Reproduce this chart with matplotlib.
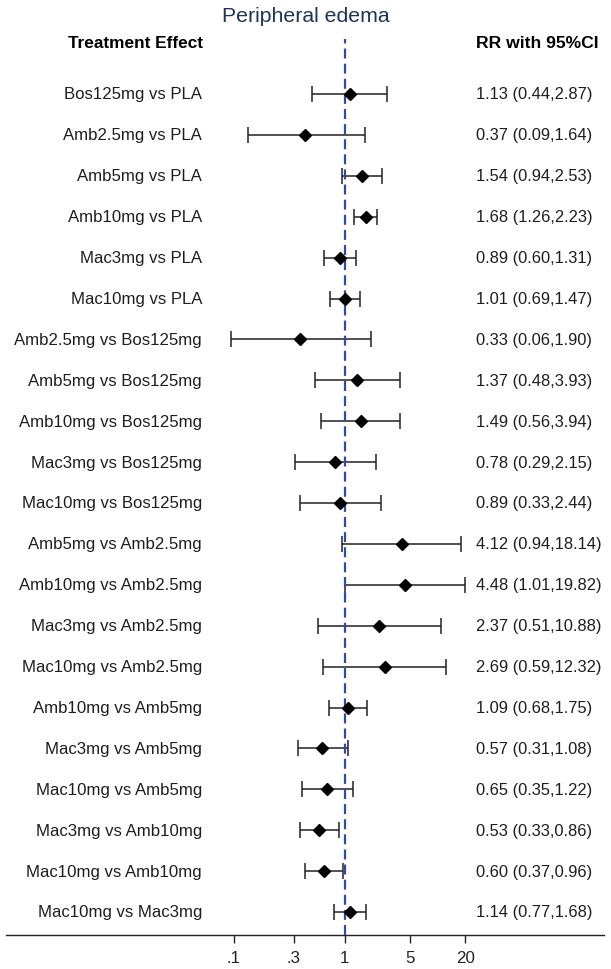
import matplotlib
matplotlib.use("Agg")
import matplotlib.pyplot as plt
import matplotlib.transforms as mtransforms
import numpy as np

plt.rcParams['font.family'] = ['Liberation Sans', 'DejaVu Sans']

title = "Peripheral edema"
comparisons = [
    "Bos125mg vs PLA", "Amb2.5mg vs PLA", "Amb5mg vs PLA", "Amb10mg vs PLA",
    "Mac3mg vs PLA", "Mac10mg vs PLA", "Amb2.5mg vs Bos125mg", "Amb5mg vs Bos125mg",
    "Amb10mg vs Bos125mg", "Mac3mg vs Bos125mg", "Mac10mg vs Bos125mg",
    "Amb5mg vs Amb2.5mg", "Amb10mg vs Amb2.5mg", "Mac3mg vs Amb2.5mg",
    "Mac10mg vs Amb2.5mg", "Amb10mg vs Amb5mg", "Mac3mg vs Amb5mg",
    "Mac10mg vs Amb5mg", "Mac3mg vs Amb10mg", "Mac10mg vs Amb10mg", "Mac10mg vs Mac3mg",
]
rr = [1.13, 0.37, 1.54, 1.68, 0.89, 1.01, 0.33, 1.37, 1.49, 0.78, 0.89,
      4.12, 4.48, 2.37, 2.69, 1.09, 0.57, 0.65, 0.53, 0.60, 1.14]
ci_low = [0.44, 0.09, 0.94, 1.26, 0.60, 0.69, 0.06, 0.48, 0.56, 0.29, 0.33,
          0.94, 1.01, 0.51, 0.59, 0.68, 0.31, 0.35, 0.33, 0.37, 0.77]
ci_high = [2.87, 1.64, 2.53, 2.23, 1.31, 1.47, 1.90, 3.93, 3.94, 2.15, 2.44,
           18.14, 19.82, 10.88, 12.32, 1.75, 1.08, 1.22, 0.86, 0.96, 1.68]
tick_values = [0.0641, 0.284, 1, 5, 20]
tick_labels = [".1", ".3", "1", "5", "20"]

W, H = 611, 970
fig = plt.figure(figsize=(W / 100, H / 100), dpi=100)
ax_left, ax_right, ax_top, ax_bot = 6, 604, 40, 936
ax = fig.add_axes([ax_left / W, 1 - ax_bot / H, (ax_right - ax_left) / W, (ax_bot - ax_top) / H])

n = len(comparisons)
rows = np.arange(1, n + 1)
row_top_px, row_bot_px = 95, 913
sp = (row_bot_px - row_top_px) / (n - 1)
ax.set_ylim(n + (ax_bot - row_bot_px) / sp, 1 - (row_top_px - ax_top) / sp)

k = 40.3
ax.set_xscale('log')
ax.set_xlim(np.exp((ax_left - 344.7) / k), np.exp((ax_right - 344.7) / k))

rr_a = np.array(rr)
lo = rr_a - np.array(ci_low)
hi = np.array(ci_high) - rr_a
ax.errorbar(rr_a, rows, xerr=[lo, hi], fmt='none', ecolor='#222222',
            elinewidth=1.1, capsize=5.5, capthick=1.1, zorder=2)
ax.axvline(1, color='#2a4f9e', lw=1.6, linestyle=(0, (4.5, 2.3)), zorder=3)
ax.plot(rr_a, rows, linestyle='none', marker='D', ms=6.6, color='black', zorder=4)

for s in ['top', 'left', 'right']:
    ax.spines[s].set_visible(False)
ax.spines['bottom'].set_linewidth(1.0)
ax.spines['bottom'].set_color('#222222')
ax.set_yticks([])
ax.xaxis.set_minor_locator(matplotlib.ticker.NullLocator())
ax.set_xticks(tick_values)
ax.set_xticklabels(tick_labels)
ax.tick_params(axis='x', length=6, width=1.0, color='#222222', labelsize=12.2,
               labelcolor='#222222', pad=5)

trans = mtransforms.blended_transform_factory(fig.transFigure, ax.transData)
txt_color = '#1e1e1e'
for i, (lab, r, l, h) in enumerate(zip(comparisons, rr, ci_low, ci_high)):
    y = rows[i]
    fig.text(202 / W, y, lab, transform=trans, ha='right', va='center',
             fontsize=12.1, color=txt_color)
    fig.text(476 / W, y, f"{r:.2f} ({l:.2f},{h:.2f})", transform=trans,
             ha='left', va='center', fontsize=11.9, color=txt_color)

fig.text(203 / W, 1 - 43 / H, "Treatment Effect", ha='right', va='center',
         fontsize=12.4, fontweight='bold', color='black')
fig.text(476 / W, 1 - 43 / H, "RR with 95%CI", ha='left', va='center',
         fontsize=12.6, fontweight='bold', color='black')
fig.text(306 / W, 1 - 16 / H, title, ha='center', va='center',
         fontsize=15.3, color='#1f3556')

fig.savefig("out.png", dpi=100)
